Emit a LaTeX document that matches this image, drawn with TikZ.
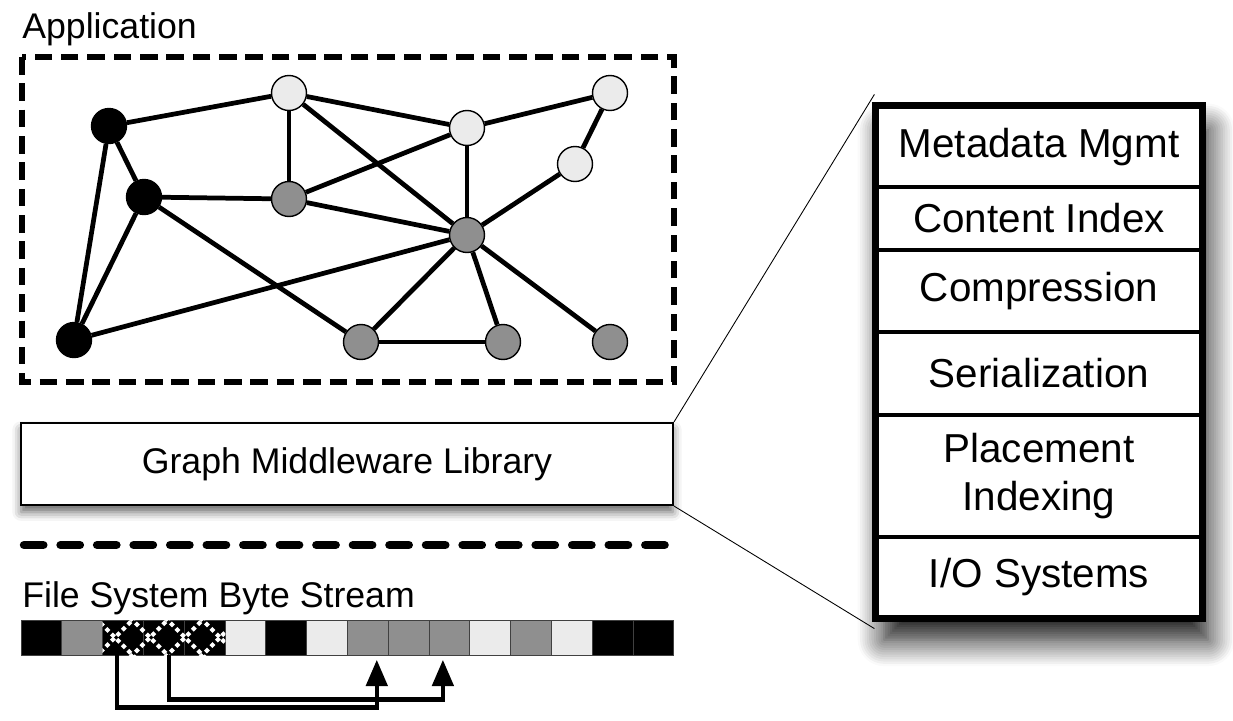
\documentclass[tikz,border=0pt]{standalone}
\usepackage{fontspec}
\setmainfont{Liberation Sans}
\usetikzlibrary{arrows.meta,shadows.blur}
\definecolor{gnode}{HTML}{8F8F8F}
\definecolor{lnode}{HTML}{EBEBEB}
\begin{document}
\begin{tikzpicture}[x=0.02cm,y=-0.02cm,
 vtx/.style={circle,draw=black,line width=0.8pt,minimum size=0.7cm,inner sep=0pt},
 blk/.style={vtx,fill=black},
 gry/.style={vtx,fill=gnode},
 lgt/.style={vtx,fill=lnode},
 edge/.style={line width=2.7pt},
 lbl/.style={font=\fontsize{20.3}{24}\selectfont,inner sep=0pt},
 row/.style={draw=black,line width=2.4pt,fill=white,minimum width=6.48cm,font=\fontsize{23}{27.2}\selectfont,align=center,inner sep=0pt},
 cell/.style={draw=black!75,line width=0.4pt,minimum width=0.816cm,minimum height=0.7cm,inner sep=0pt},
 flow/.style={line width=2.6pt,-{Triangle[length=15pt,width=12pt]}},
 zoomline/.style={line width=0.5pt}
]
\useasboundingbox (0,0) rectangle (1233,720);

% titles
\node[lbl,anchor=base west] (apptitle) at (22,38) {Application};
\node[lbl,anchor=base west] (fstitle) at (22,607) {File System Byte Stream};

% application dashed box
\draw[line width=3pt,dash pattern=on 10pt off 5pt] (22,57) rectangle (674,382);

% graph nodes
\node[blk] (A) at (109,126) {};
\node[blk] (B) at (144,197) {};
\node[blk] (C) at (74,340) {};
\node[lgt] (D) at (289,93) {};
\node[lgt] (E) at (467,128) {};
\node[lgt] (F) at (610,93) {};
\node[lgt] (G) at (575,164) {};
\node[gry] (H) at (289,199) {};
\node[gry] (I) at (467,235) {};
\node[gry] (J) at (361,342) {};
\node[gry] (K) at (503,342) {};
\node[gry] (L) at (610,342) {};

\foreach \u/\v in {A/D,A/B,A/C,B/C,B/H,B/J,C/I,D/E,D/H,D/I,E/F,E/H,E/I,F/G,G/I,H/I,I/J,I/K,I/L,J/K}
  \draw[edge] (\u) -- (\v);

% middleware box and zoomed stack
\node[draw,line width=1.2pt,fill=white,minimum width=13.04cm,minimum height=1.64cm,
      blur shadow={shadow xshift=0pt,shadow yshift=-4pt,shadow blur radius=5pt,shadow opacity=60},lbl]
      (gml) at (347,464) {Graph Middleware Library};

\node[draw,line width=3pt,fill=white,minimum width=6.48cm,minimum height=10.2cm,inner sep=0pt,
      blur shadow={shadow xshift=4pt,shadow yshift=-13pt,shadow blur radius=15pt,shadow opacity=95,shadow blur steps=12}]
      (stack) at (1039,362) {};
\coordinate (zt) at ([yshift=0.2cm]stack.north west);
\coordinate (zb) at ([yshift=-0.18cm]stack.south west);
\draw[zoomline] (gml.north east) -- (zt);
\draw[zoomline] (gml.south east) -- (zb);

% stack rows
\node[row,minimum height=1.6cm] (s1) at (1039,147) {Metadata Mgmt};
\node[row,minimum height=1.26cm] (s2) at (1039,218.5) {Content Index};
\node[row,minimum height=1.64cm] (s3) at (1039,291) {Compression};
\node[row,minimum height=1.66cm] (s4) at (1039,373.5) {Serialization};
\node[row,minimum height=2.44cm] (s5) at (1039,476) {Placement\\Indexing};
\node[row,minimum height=1.6cm] (s6) at (1039,577) {I/O Systems};
\draw[line width=3pt] (stack.north west) rectangle (stack.south east);

% lower dashed separator
\draw[line width=4.8pt,line cap=round,dash pattern=on 11pt off 9.8pt] (24,545) -- (675,545);

% byte stream
\foreach \i/\c in {1/black,2/gnode,3/black,4/black,5/black,6/lnode,7/black,8/lnode,9/gnode,10/gnode,11/gnode,12/lnode,13/gnode,14/lnode,15/black,16/black}
  \node[cell,fill=\c] (c\i) at ({21+40.8*(\i-0.5)},637.5) {};
\begin{scope}
  \clip (c3.north west) rectangle (c5.south east);
  \foreach \k in {-1,...,4} {
    \draw[white,line width=2.4pt,dash pattern=on 2.4pt off 2pt] ({115+35*\k-20},657.5) -- ({115+35*\k+20},617.5);
    \draw[white,line width=2.4pt,dash pattern=on 2.4pt off 2pt] ({115+35*\k-20},617.5) -- ({115+35*\k+20},657.5);
  }
\end{scope}

% arrows
\draw[flow,shorten >=2.5pt] ([xshift=-0.12cm]c3.south) -- ++(0,52) -| ([xshift=0.18cm]c9.south);
\draw[flow,shorten >=2.5pt] ([xshift=0.1cm]c4.south) -- ++(0,44) -| ([xshift=-0.13cm]c11.south);
\end{tikzpicture}
\end{document}
